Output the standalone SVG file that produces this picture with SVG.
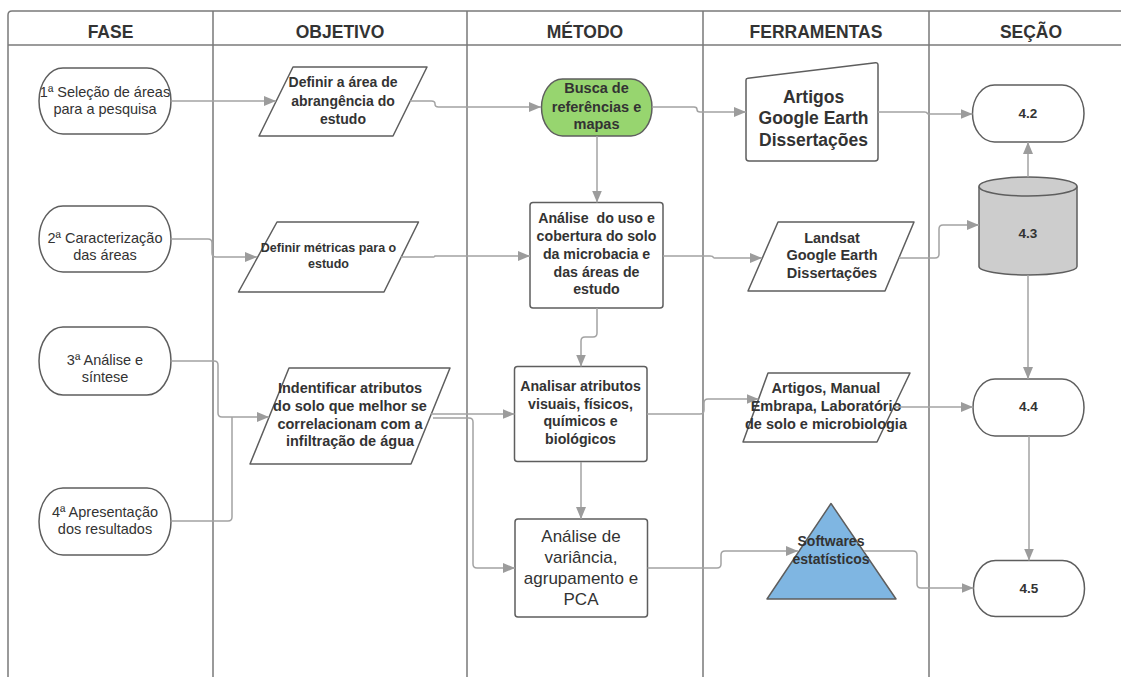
<svg xmlns="http://www.w3.org/2000/svg" width="1121" height="677" viewBox="0 0 1121 677">
<defs>
<style>
.frame{fill:none;stroke:#7a7a7a;stroke-width:1.5}
.hd{font-family:"Liberation Sans",Arial,sans-serif;font-weight:bold;font-size:17.5px;fill:#333;text-anchor:middle}
.nd{stroke:#5e5e5e;stroke-width:1.5;stroke-linejoin:round}
.t{font-family:"Liberation Sans",Arial,sans-serif;fill:#333;text-anchor:middle;dominant-baseline:central}
.b{font-weight:bold}
.e{fill:none;stroke:#a3a3a3;stroke-width:1.5}
</style>
<marker id="ar" markerUnits="userSpaceOnUse" markerWidth="12" markerHeight="10" refX="12" refY="5" orient="auto">
<path d="M0,0 L12,5 L0,10 Z" fill="#9c9c9c"/>
</marker>
</defs>
<rect width="1121" height="677" fill="#fff"/>
<g id="frame">
<path class="frame" d="M8,677 V15 Q8,11 12,11 H1121"/>
<path class="frame" d="M8,45 H1121"/>
<path class="frame" d="M213,11 V677 M467,11 V677 M703,11 V677 M929,11 V677"/>
<text class="hd" x="110.5" y="38">FASE</text>
<text class="hd" x="340" y="38">OBJETIVO</text>
<text class="hd" x="585" y="38">MÉTODO</text>
<text class="hd" x="816" y="38">FERRAMENTAS</text>
<text class="hd" x="1031" y="38">SEÇÃO</text>
</g>
<g id="fase1"><rect class="nd" x="39" y="68" width="132" height="66" rx="24" ry="33" fill="#fff"/>
<text class="t" font-size="14.5"><tspan x="105" y="91.5">1ª Seleção de áreas</tspan><tspan x="105" y="108.5">para a pesquisa</tspan></text></g>
<g id="fase2"><rect class="nd" x="39" y="206" width="132" height="66" rx="24" ry="33" fill="#fff"/>
<text class="t" font-size="14.5"><tspan x="105" y="238">2ª Caracterização</tspan><tspan x="105" y="254.5">das áreas</tspan></text></g>
<g id="fase3"><rect class="nd" x="39" y="327" width="132" height="68" rx="24" ry="34" fill="#fff"/>
<text class="t" font-size="14.5"><tspan x="105" y="359.5">3ª Análise e</tspan><tspan x="105" y="376.5">síntese</tspan></text></g>
<g id="fase4"><rect class="nd" x="39" y="488" width="132" height="67" rx="24" ry="33.5" fill="#fff"/>
<text class="t" font-size="14.5"><tspan x="105" y="511.5">4ª Apresentação</tspan><tspan x="105" y="528.5">dos resultados</tspan></text></g>

<g id="obj1"><polygon class="nd" points="293,67 427,67 393,136 259,136" fill="#fff"/>
<text class="t b" font-size="14"><tspan x="343" y="82">Definir a área de</tspan><tspan x="343" y="100.5">abrangência do</tspan><tspan x="343" y="118.5">estudo</tspan></text></g>
<g id="obj2"><polygon class="nd" points="277,222 418.5,222 384,292 238.5,292" fill="#fff"/>
<text class="t b" font-size="12.5"><tspan x="328.5" y="248">Definir métricas para o</tspan><tspan x="328.5" y="263.5">estudo</tspan></text></g>
<g id="obj3"><polygon class="nd" points="289,368 450,368 411,464 250,464" fill="#fff"/>
<text class="t b" font-size="14.5"><tspan x="350" y="388">Indentificar atributos</tspan><tspan x="350" y="406">do solo que melhor se</tspan><tspan x="350" y="423.5">correlacionam com a</tspan><tspan x="350" y="441">infiltração de água</tspan></text></g>

<g id="met1"><rect class="nd" x="541.5" y="79" width="110.5" height="57" rx="21" ry="28.5" fill="#97d56f"/>
<text class="t b" font-size="14.5"><tspan x="596.5" y="88">Busca de</tspan><tspan x="596.5" y="106.5">referências e</tspan><tspan x="596.5" y="124">mapas</tspan></text></g>
<g id="met2"><rect class="nd" x="530" y="202.5" width="133" height="105.5" rx="3" fill="#fff"/>
<text class="t b" font-size="14.2" style="white-space:pre"><tspan x="596.5" y="218">Análise  do uso e</tspan><tspan x="596.5" y="236">cobertura do solo</tspan><tspan x="596.5" y="254">da microbacia e</tspan><tspan x="596.5" y="271.5">das áreas de</tspan><tspan x="596.5" y="289">estudo</tspan></text></g>
<g id="met3"><rect class="nd" x="514.5" y="366.5" width="132.5" height="95" rx="3" fill="#fff"/>
<text class="t b" font-size="14.2"><tspan x="580.5" y="386">Analisar atributos</tspan><tspan x="580.5" y="403.5">visuais, físicos,</tspan><tspan x="580.5" y="421">químicos e</tspan><tspan x="580.5" y="439">biológicos</tspan></text></g>
<g id="met4"><rect class="nd" x="515" y="519" width="132.5" height="98" rx="3" fill="#fff"/>
<text class="t" font-size="17"><tspan x="581" y="536">Análise de</tspan><tspan x="581" y="557">variância,</tspan><tspan x="581" y="578">agrupamento e</tspan><tspan x="581" y="598.5">PCA</tspan></text></g>

<g id="fer1"><path class="nd" d="M746,80 Q746,78.5 748,78.3 L875.5,62.8 Q878,62.6 878,65 V158 Q878,161 875,161 H749 Q746,161 746,158 Z" fill="#fff"/>
<text class="t b" font-size="17.5"><tspan x="813.5" y="96.5">Artigos</tspan><tspan x="813.5" y="118">Google Earth</tspan><tspan x="813.5" y="139.5">Dissertações</tspan></text></g>
<g id="fer2"><polygon class="nd" points="778,222 914,222 885,291 748,291" fill="#fff"/>
<text class="t b" font-size="14.5"><tspan x="832" y="237.5">Landsat</tspan><tspan x="832" y="255">Google Earth</tspan><tspan x="832" y="273">Dissertações</tspan></text></g>
<g id="fer3"><polygon class="nd" points="768,373 910,373 877,442 743,442" fill="#fff"/>
<text class="t b" font-size="14.5"><tspan x="826" y="388">Artigos, Manual</tspan><tspan x="826" y="406">Embrapa, Laboratório</tspan><tspan x="826" y="423.5">de solo e microbiologia</tspan></text></g>
<g id="fer4"><polygon class="nd" points="831,503.5 896,599 767,599" fill="#7fb6e2"/>
<text class="t b" font-size="14"><tspan x="831" y="540.5">Softwares</tspan><tspan x="831" y="558.5">estatísticos</tspan></text></g>

<g id="sec42"><rect class="nd" x="972.5" y="85" width="111.5" height="57" rx="22" ry="28.5" fill="#fff"/>
<text class="t b" font-size="13.5" x="1028" y="113">4.2</text></g>
<g id="sec43"><path class="nd" d="M979,186.5 A49,9.5 0 0 1 1077,186.5 V266.5 A49,8.5 0 0 1 979,266.5 Z" fill="#cdcdcd"/>
<path class="nd" d="M979,186.5 A49,9.5 0 0 0 1077,186.5" fill="none"/>
<text class="t b" font-size="13.5" x="1028" y="233">4.3</text></g>
<g id="sec44"><rect class="nd" x="973" y="379" width="111" height="57" rx="22" ry="28.5" fill="#fff"/>
<text class="t b" font-size="13.5" x="1028.5" y="406.5">4.4</text></g>
<g id="sec45"><rect class="nd" x="973.5" y="560.5" width="111" height="56" rx="22" ry="28" fill="#fff"/>
<text class="t b" font-size="13.5" x="1029" y="588">4.5</text></g>

<g id="connectors">
<path class="e" marker-end="url(#ar)" d="M171,101 H276"/>
<path class="e" marker-end="url(#ar)" d="M410,101 H431.5 Q435,101 435,104 Q435,107 438.5,107 H541"/>
<path class="e" marker-end="url(#ar)" d="M652,107 H694 Q697,107 697,109.5 Q697,112 700,112 H746"/>
<path class="e" marker-end="url(#ar)" d="M878,112 H924.5 Q927,112 927,113 Q927,114 929.5,114 H972.5"/>
<path class="e" marker-end="url(#ar)" d="M597,136 V202.5"/>
<path class="e" marker-end="url(#ar)" d="M171,239 H208 Q212,239 212,243 V253 Q212,257 216,257 H257"/>
<path class="e" marker-end="url(#ar)" d="M401,257 H432 Q435,257 435,256 H530"/>
<path class="e" marker-end="url(#ar)" d="M597,308 V333 Q597,337 593,337 H585 Q581,337 581,341 V366.5"/>
<path class="e" marker-end="url(#ar)" d="M663,256 H710 Q713,256 713,257 Q713,258 716,258 H762"/>
<path class="e" marker-end="url(#ar)" d="M899,258 H935 Q939,258 939,254 V229 Q939,225 943,225 H979"/>
<path class="e" marker-end="url(#ar)" d="M1028,177 V142"/>
<path class="e" marker-end="url(#ar)" d="M1028,275 V379"/>
<path class="e" marker-end="url(#ar)" d="M171,361 H214 Q218,361 218,365 V413 Q218,417 222,417 H269"/>
<path class="e" d="M171,521 H228 Q232,521 232,517 V417"/>
<path class="e" marker-end="url(#ar)" d="M431,414 H514.5"/>
<path class="e" marker-end="url(#ar)" d="M433,418 H469 Q473,418 473,422 V564 Q473,568 477,568 H515"/>
<path class="e" marker-end="url(#ar)" d="M647,414 H700 Q704,414 704,410 V403 Q704,399 708,399 H758.5"/>
<path class="e" marker-end="url(#ar)" d="M894,407 H973"/>
<path class="e" marker-end="url(#ar)" d="M581,462 V519"/>
<path class="e" marker-end="url(#ar)" d="M647.5,568 H717 Q721,568 721,564 V555 Q721,551 725,551 H798"/>
<path class="e" marker-end="url(#ar)" d="M864,551 H913 Q917,551 917,555 V584 Q917,588 921,588 H973.5"/>
<path class="e" marker-end="url(#ar)" d="M1029,436 V560.5"/>
</g>
</svg>
